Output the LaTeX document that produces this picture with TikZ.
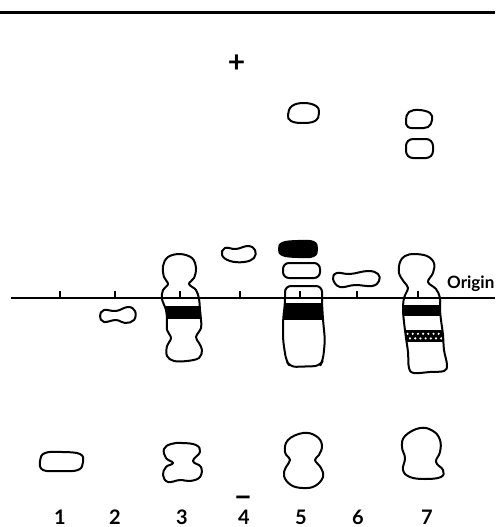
\documentclass[tikz,border=0pt]{standalone}
\usepackage{fontspec}
\setmainfont{Lato}
\begin{document}
\begin{tikzpicture}[x=1pt,y=-1pt,
  spot/.style={line width=2pt,line join=round},
  lbl/.style={font=\fontsize{20}{20}\selectfont\bfseries,anchor=base,inner sep=0pt},
  axis/.style={line width=1.8pt}]
\useasboundingbox (0,0) rectangle (495,527);
% top rule
\draw[line width=3pt] (0,13) -- (495,13);
\node[font=\fontsize{30}{30}\selectfont\bfseries,inner sep=0pt] (plus) at (236.5,63.5) {+};
% ---- lane 1
\draw[spot] plot[smooth cycle,tension=0.7] coordinates {(40,461) (45,453) (62,452) (80,454) (83,462) (78,470) (60,471) (43,470)};
% ---- lane 2
\draw[spot] plot[smooth cycle,tension=0.7] coordinates {(100,316) (104,310) (116,311) (128,307) (135,311) (134,320) (125,323) (116,320) (104,322)};
% ---- lane 3 column
\begin{scope}
\clip plot[smooth cycle,tension=0.6] coordinates {(180,254) (192,258) (196,268) (194,278) (189,284) (196,290) (199,299) (200,310) (201,320) (201,328) (196,337) (199,343) (202,350) (199,358) (187,361) (174,361) (167,356) (167,346) (171,338) (167,330) (167,320) (166,310) (162,299) (163,290) (168,284) (164,277) (163,266) (168,257)};
\fill (150,306) rectangle (210,319);
\end{scope}
\draw[spot] plot[smooth cycle,tension=0.6] coordinates {(180,254) (192,258) (196,268) (194,278) (189,284) (196,290) (199,299) (200,310) (201,320) (201,328) (196,337) (199,343) (202,350) (199,358) (187,361) (174,361) (167,356) (167,346) (171,338) (167,330) (167,320) (166,310) (162,299) (163,290) (168,284) (164,277) (163,266) (168,257)};
\draw[spot] plot[smooth cycle,tension=0.7] coordinates {(182,443) (196,445) (200,452) (193,461) (201,467) (200,477) (190,481) (180,480) (168,482) (163,475) (166,467) (173,463) (166,458) (164,449) (171,444)};
% ---- lane 4
\draw[spot] plot[smooth cycle,tension=0.7] coordinates {(222,255) (225,248) (236,249) (248,246) (255,250) (254,258) (244,262) (230,261)};
% ---- lane 5
\draw[spot] plot[smooth cycle,tension=0.7] coordinates {(288,115) (292,106) (304,103) (316,106) (319,113) (315,121) (302,123) (291,121)};
\fill[spot] plot[smooth cycle,tension=0.7] coordinates {(278,249) (282,242) (298,240) (314,241) (318,249) (314,257) (298,258) (282,256)};
\draw[spot,rounded corners=6pt] (283,263) rectangle (320,278);
\begin{scope}
\clip[rounded corners=6pt] (285,303) -- (285,286) -- (322,286) -- (322,303) -- (323,320) -- (325,340) -- (323,360) -- (320,366) -- (290,367) -- (286,360) -- (283,340) -- (283,320) -- cycle;
\fill (275,303) rectangle (330,320);
\end{scope}
\draw[spot,rounded corners=6pt] (285,303) -- (285,286) -- (322,286) -- (322,303) -- (323,320) -- (325,340) -- (323,360) -- (320,366) -- (290,367) -- (286,360) -- (283,340) -- (283,320) -- cycle;
\draw[spot] plot[smooth cycle,tension=0.7] coordinates {(303,433) (316,436) (322,445) (319,455) (315,460) (321,468) (323,477) (315,486) (303,488) (291,485) (284,476) (286,467) (290,460) (285,452) (288,440)};
% ---- lane 6
\draw[spot] plot[smooth cycle,tension=0.7] coordinates {(333,279) (337,273) (350,274) (368,271) (378,274) (379,281) (372,286) (355,285) (340,287)};
% ---- lane 7
\draw[spot] plot[smooth cycle,tension=0.7] coordinates {(406,120) (409,112) (419,110) (430,113) (432,120) (428,127) (418,128) (408,127)};
\draw[spot,rounded corners=7pt] (406,139) rectangle (433,158);
\begin{scope}
\clip plot[smooth cycle,tension=0.6] coordinates {(414,254) (427,256) (434,263) (433,273) (428,282) (436,289) (440,298) (440,310) (441,320) (443,335) (444,350) (447,365) (444,371) (430,372) (414,373) (409,368) (408,352) (406,338) (404,322) (403,310) (404,298) (408,288) (404,282) (399,273) (400,262) (405,256)};
\fill (395,305) rectangle (455,316);
\fill (395,330) rectangle (455,342);
\foreach \i in {0,...,6} {
  \fill[white] (407.5+5.2*\i,333.8) circle (1.2);
  \fill[white] (410+5.2*\i,338.4) circle (1.2);
}
\end{scope}
\draw[spot] plot[smooth cycle,tension=0.6] coordinates {(414,254) (427,256) (434,263) (433,273) (428,282) (436,289) (440,298) (440,310) (441,320) (443,335) (444,350) (447,365) (444,371) (430,372) (414,373) (409,368) (408,352) (406,338) (404,322) (403,310) (404,298) (408,288) (404,282) (399,273) (400,262) (405,256)};
\draw[spot] plot[smooth cycle,tension=0.7] coordinates {(420,428) (433,431) (440,440) (440,452) (436,462) (443,470) (441,477) (425,479) (410,477) (403,470) (405,458) (402,447) (405,436)};
% ---- origin line and ticks
\coordinate (oL) at (11,298);
\coordinate (oR) at (495,298);
\draw[axis] (oL) -- (oR);
\foreach \x in {60,115,180,240,300,357,418} \draw[axis] (\x,298) -- (\x,291);
\node[font=\fontsize{17}{17}\selectfont\bfseries,anchor=base west,inner sep=0pt] (origin) at (447,288.5) {Origin};
% ---- minus and lane numbers
\node[font=\fontsize{30}{30}\selectfont\bfseries,inner sep=0pt,text height=0pt,text depth=0pt,anchor=base] (minus) at (243,507.5) {−};
\node[lbl] (n1) at (60,524) {1};
\node[lbl] (n2) at (115,524) {2};
\node[lbl] (n3) at (182,524) {3};
\node[lbl] (n4) at (244,524) {4};
\node[lbl] (n5) at (301,524) {5};
\node[lbl] (n6) at (358,524) {6};
\node[lbl] (n7) at (427,524) {7};
\end{tikzpicture}
\end{document}
